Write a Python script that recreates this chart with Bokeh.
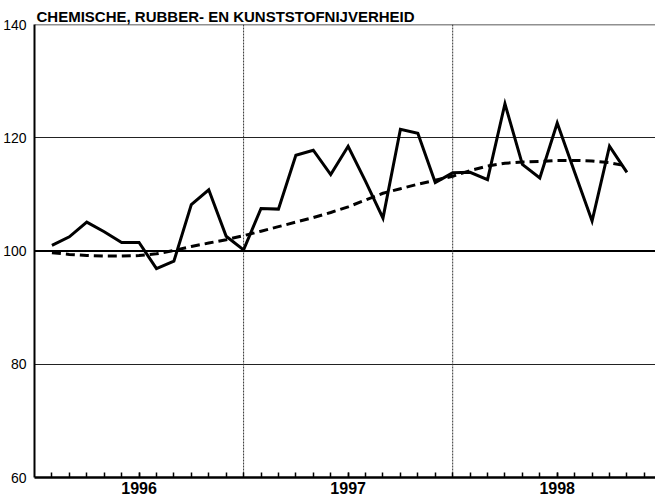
from bokeh.plotting import figure
from bokeh.models import Range1d, FixedTicker, Span
from bokeh.embed import file_html
from bokeh.resources import INLINE

title_text = "CHEMISCHE, RUBBER- EN KUNSTSTOFNIJVERHEID"

# month index (1 = first month of 1996)
months = list(range(1, 35))

index_values = [101.0, 102.5, 105.1, 103.4, 101.5, 101.5, 96.9, 98.2, 108.2, 110.8, 102.6, 100.2,
                107.5, 107.4, 116.9, 117.8, 113.5, 118.5, 112.3, 105.8, 121.5, 120.8, 112.1, 113.8,
                113.9, 112.6, 126.0, 115.3, 112.9, 122.6, 113.9, 105.3, 118.5, 113.9]

trend_values = [99.7, 99.4, 99.2, 99.1, 99.1, 99.2, 99.5, 100.1, 100.8, 101.4, 102.0, 102.7,
                103.5, 104.3, 105.1, 105.9, 106.8, 107.8, 109.0, 110.2, 111.0, 111.8, 112.5, 113.2,
                114.2, 115.0, 115.5, 115.7, 115.8, 116.0, 116.0, 115.9, 115.6, 115.0]

year_positions = [6, 18, 30]
year_labels = ["1996", "1997", "1998"]
year_boundaries = [12, 24]
y_ticks = [60, 80, 100, 120, 140]

FONT = "Liberation Sans"

p = figure(width=655, height=500, x_range=Range1d(0, 35.64), y_range=Range1d(60, 140),
           output_backend="svg", toolbar_location=None,
           min_border_left=26, min_border_right=0, min_border_top=24, min_border_bottom=23)
p.outline_line_color = None
p.background_fill_color = "white"
p.border_fill_color = "white"

# title
p.title.text = title_text
p.title.text_font = FONT
p.title.text_font_style = "bold"
p.title.text_font_size = "15px"
p.title.text_color = "black"
p.title.align = "left"
p.title.offset = 2
p.title.standoff = 0

# y axis
p.yaxis.ticker = FixedTicker(ticks=y_ticks)
p.yaxis.major_tick_line_color = None
p.yaxis.minor_tick_line_color = None
p.yaxis.axis_line_width = 2
p.yaxis.axis_line_color = "black"
p.yaxis.major_label_standoff = 2
p.yaxis.major_label_text_font = FONT
p.yaxis.major_label_text_font_size = "14px"
p.yaxis.major_label_text_color = "black"

# x axis
p.xaxis.ticker = FixedTicker(ticks=year_positions, minor_ticks=list(range(1, 36)))
p.xaxis.major_label_overrides = {pos: lab for pos, lab in zip(year_positions, year_labels)}
p.xaxis.major_tick_in = 5
p.xaxis.major_tick_out = 0
p.xaxis.minor_tick_in = 5
p.xaxis.minor_tick_out = 0
p.xaxis.major_tick_line_width = 1.5
p.xaxis.minor_tick_line_width = 1.5
p.xaxis.major_tick_line_color = "black"
p.xaxis.minor_tick_line_color = "black"
p.xaxis.axis_line_width = 2.5
p.xaxis.axis_line_color = "black"
p.xaxis.major_label_standoff = 4
p.xaxis.major_label_text_font = FONT
p.xaxis.major_label_text_font_size = "16px"
p.xaxis.major_label_text_font_style = "bold"
p.xaxis.major_label_text_color = "black"

# grids
p.xgrid.grid_line_color = None
p.ygrid.ticker = FixedTicker(ticks=[80, 120])
p.ygrid.grid_line_color = "#222222"
p.ygrid.grid_line_width = 1

p.add_layout(Span(location=100, dimension="width", line_color="black", line_width=2.2, level="underlay"))
p.add_layout(Span(location=140, dimension="width", line_color="#222222", line_width=1.5, level="underlay"))
for yb in year_boundaries:
    p.add_layout(Span(location=yb, dimension="height", line_color="#333333", line_width=1,
                      line_dash="2 1", level="underlay"))

# series
p.line(months, trend_values, line_color="black", line_width=3, line_dash="9 5")
p.line(months, index_values, line_color="black", line_width=3, line_join="miter")

open("out.html", "w").write(file_html(p, INLINE))
